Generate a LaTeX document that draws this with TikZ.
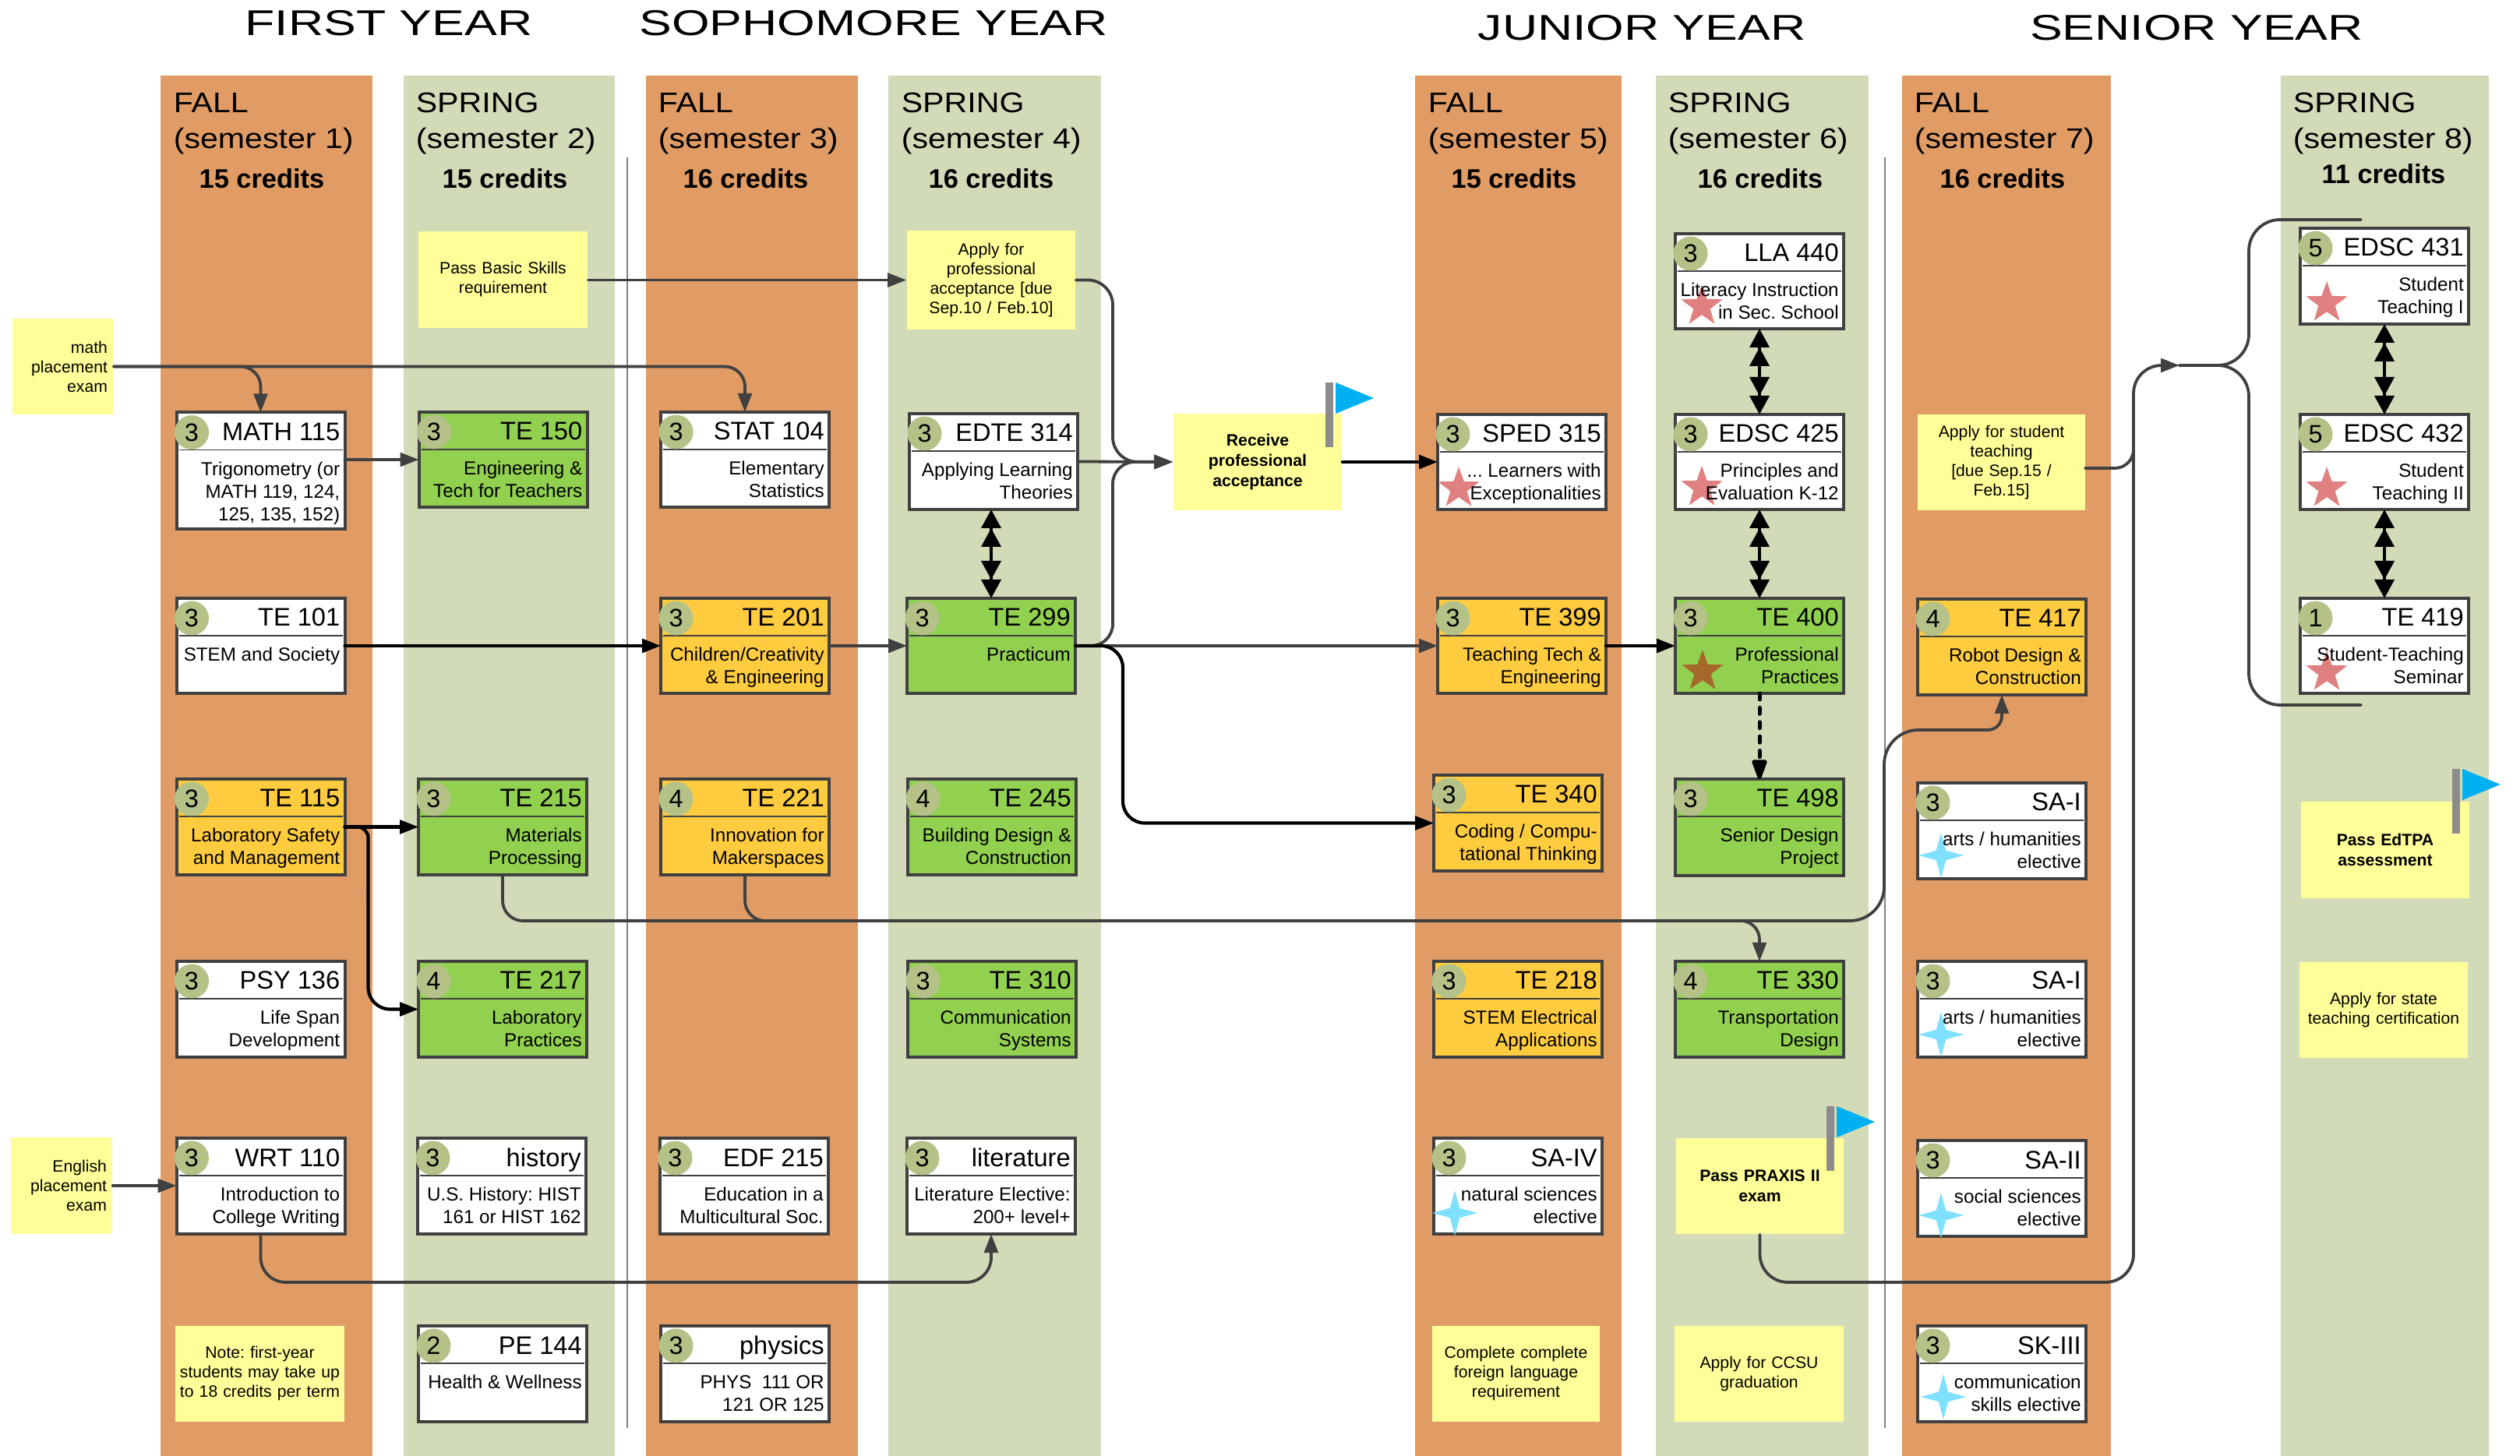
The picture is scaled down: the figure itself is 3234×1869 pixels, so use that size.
\documentclass[tikz,border=0pt]{standalone}
\usepackage{fontspec}
\setmainfont{Liberation Sans}
\newfontfamily\yearfont[FakeStretch=1.36]{Liberation Sans}
\newfontfamily\semfont[FakeStretch=1.13]{Liberation Sans}
\usetikzlibrary{arrows.meta,shapes.geometric,calc}
\definecolor{fallc}{HTML}{E09C64}
\definecolor{springc}{HTML}{D2DBB8}
\definecolor{notec}{HTML}{FFFF99}
\definecolor{greenc}{HTML}{92D050}
\definecolor{yelc}{HTML}{FFCC40}
\definecolor{badgec}{HTML}{B4C288}
\definecolor{linec}{HTML}{404040}
\definecolor{starc}{HTML}{E08080}
\definecolor{brownc}{HTML}{A5672A}
\definecolor{bluestarc}{HTML}{7FE0FF}
\definecolor{flagc}{HTML}{00B0F0}
\definecolor{polec}{HTML}{8C8C8C}
\tikzset{
  plain/.style={fill=white},
  gbox/.style={fill=greenc},
  ybox/.style={fill=yelc},
  boxbase/.style={draw=linec,line width=1pt,inner sep=0pt,outer sep=0pt,rectangle},
  titletxt/.style={font=\fontsize{8.15}{9}\selectfont,inner sep=0pt,anchor=base east},
  desctxt/.style={font=\fontsize{6.05}{7.25}\selectfont,inner sep=0pt,anchor=north east,align=right},
  badge/.style={circle,fill=badgec,minimum size=11pt,inner sep=0pt,font=\fontsize{8.1}{9}\selectfont},
  notetxt/.style={fill=notec,inner sep=0.5pt,font=\fontsize{5.3}{6.25}\selectfont,rectangle},
  boldnote/.style={notetxt,font=\fontsize{5.3}{6.4}\selectfont\bfseries},
  conn/.style={draw=linec,line width=0.95pt,line cap=round,-{Triangle[length=6pt,width=4.4pt]}},
  connb/.style={draw=black,line width=1.05pt,line cap=round,-{Triangle[length=6pt,width=4.4pt]}},
  connplain/.style={draw=linec,line width=0.95pt,line cap=round},
  connbplain/.style={draw=black,line width=1.05pt,line cap=round},
  dbl/.style={draw=black,line width=1.1pt,{Triangle[length=6pt,width=6.2pt]Triangle[length=6pt,width=6.2pt]}-{Triangle[length=6pt,width=6.2pt]Triangle[length=6pt,width=6.2pt]}},
  dashb/.style={draw=black,line width=1.25pt,line cap=round,dash pattern=on 2pt off 2.6pt,-{Triangle[length=7.5pt,width=5pt,round=false]}},
  sep/.style={draw=gray,line width=0.35pt},
  yearlab/.style={font=\yearfont\fontsize{11.5}{13}\selectfont,inner sep=0pt,anchor=base},
  semlab/.style={font=\semfont\fontsize{9.1}{11}\selectfont,inner sep=0pt,anchor=base west},
  credlab/.style={font=\fontsize{8.6}{10}\selectfont\bfseries,inner sep=0pt,anchor=base},
  redstar/.style={star,star points=5,star point ratio=2.5,minimum size=14pt,inner sep=0pt,fill=#1},
  bluestar/.style={star,star points=4,star point ratio=3.3,minimum size=14.5pt,inner sep=0pt,fill=bluestarc},
}
\newcommand{\cbox}[6]{%
  \node[boxbase,#2,minimum width={(#5-#3-4)*0.25pt},minimum height={(#6-#4-4)*0.25pt}] (#1) at ({(#3+#5)/2},{(#4+#6)/2}) {};
  \draw[linec,line width=0.35pt] ([shift={(3,48)}]#1.north west) -- ([shift={(-3,48)}]#1.north east);
}
\newcommand{\ctext}[4]{%
  \node[badge] (#1c) at ([shift={(19.5,25.5)}]#1.north west) {#2};
  \node[titletxt] (#1t) at ([shift={(-5.5,36)}]#1.north east) {#3};
  \node[desctxt] (#1d) at ([shift={(-5.5,56)}]#1.north east) {\rule{0pt}{6pt}#4};
}
\newcommand{\rstar}[4][starc]{\node[redstar=#1] (#2s) at ([shift={(#3,#4)}]#2.north west) {};}
\newcommand{\bstar}[3]{\node[bluestar] (#1s) at ([shift={(#2,#3)}]#1.north west) {};}
\newcommand{\noteb}[7][notetxt]{%
  \node[#1,minimum width={(#5-#3)*0.25pt},minimum height={(#6-#4)*0.25pt},text width={(#5-#3-4)*0.25pt},align=center] (#2) at ({(#3+#5)/2},{(#4+#6)/2}) {#7};
}
\newcommand{\flagat}[2]{%
  \fill[polec] (#1,#2) rectangle ++(10,83);
  \fill[flagc] ($(#1,#2)+(13,0)$) -- ++(49,20) -- ++(-49,20) -- cycle;
}
\begin{document}
\frenchspacing
\begin{tikzpicture}[x=0.25pt,y=-0.25pt]
\useasboundingbox (0,0) rectangle (3234,1869);
\fill[white] (0,0) rectangle (3234,1869);
% columns
\foreach \a/\b/\c in {206/478/fallc,518/789/springc,829/1101/fallc,1140/1413/springc,1816/2081/fallc,2125/2398/springc,2441/2709/fallc,2927/3194/springc}
  \fill[\c] (\a,97) rectangle (\b,1869);
\draw[sep] (805,202) -- (805,1833);
\draw[sep] (2419,202) -- (2419,1833);
% years
\node[yearlab] (y1) at (499,46) {FIRST YEAR};
\node[yearlab] (y2) at (1121,46) {SOPHOMORE YEAR};
\node[yearlab] (y3) at (2107,52) {JUNIOR YEAR};
\node[yearlab] (y4) at (2819,52) {SENIOR YEAR};
% heads
\node[semlab] (h1x) at (222,145) {FALL};
\node[semlab] (h2x) at (533,145) {SPRING};
\node[semlab] (h3x) at (844,145) {FALL};
\node[semlab] (h4x) at (1156,145) {SPRING};
\node[semlab] (h5x) at (1832,145) {FALL};
\node[semlab] (h6x) at (2140,145) {SPRING};
\node[semlab] (h7x) at (2456,145) {FALL};
\node[semlab] (h8x) at (2942,145) {SPRING};
\node[semlab] (h1y) at (222,191) {(semester 1)};
\node[semlab] (h2y) at (533,191) {(semester 2)};
\node[semlab] (h3y) at (844,191) {(semester 3)};
\node[semlab] (h4y) at (1156,191) {(semester 4)};
\node[semlab] (h5y) at (1832,191) {(semester 5)};
\node[semlab] (h6y) at (2140,191) {(semester 6)};
\node[semlab] (h7y) at (2456,191) {(semester 7)};
\node[semlab] (h8y) at (2942,191) {(semester 8)};
\node[credlab] (h1z) at (336,242) {15 credits};
\node[credlab] (h2z) at (648,242) {15 credits};
\node[credlab] (h3z) at (957,242) {16 credits};
\node[credlab] (h4z) at (1272,242) {16 credits};
\node[credlab] (h5z) at (1943,242) {15 credits};
\node[credlab] (h6z) at (2259,242) {16 credits};
\node[credlab] (h7z) at (2570,242) {16 credits};
\node[credlab] (h8z) at (3059,236) {11 credits};
% notes
\node[notetxt,inner sep=1.75pt,minimum width=32.25pt,minimum height=30.75pt,text width=28.75pt,align=right] (mathn) at (80.5,470.5) {math\\placement\\exam};
\node[notetxt,inner sep=1.75pt,minimum width=32.5pt,minimum height=31pt,text width=29pt,align=right] (engn) at (79,1522) {English\\placement\\exam};
\noteb{basic}{537}{297}{754}{421}{Pass Basic Skills\\requirement}
\noteb{applyprof}{1164}{296}{1380}{423}{Apply for\\professional\\acceptance [due\\Sep.10 / Feb.10]}
\noteb[boldnote]{receive}{1506}{531}{1722}{655}{Receive\\professional\\acceptance}
\noteb{firstnote}{225}{1702}{442}{1825}{Note: first-year\\students may take up\\to 18 credits per term}
\noteb{lang}{1838}{1702}{2053}{1825}{Complete complete\\foreign language\\requirement}
\noteb{ccsu}{2149}{1702}{2366}{1825}{Apply for CCSU\\graduation}
\noteb[boldnote]{praxis}{2151}{1461}{2366}{1584}{Pass PRAXIS II\\exam}
\noteb{applyst}{2461}{532}{2676}{655}{Apply for student\\teaching\\{[}due Sep.15 /\\Feb.15{]}}
\noteb[boldnote]{edtpa}{2953}{1029}{3169}{1153}{Pass EdTPA\\assessment}
\noteb{statecert}{2951}{1235}{3167}{1358}{Apply for state\\teaching certification}
\flagat{1701}{491}
\flagat{2344}{1420}
\flagat{3147}{987}
% column 1
\cbox{math115}{plain}{224.5}{527.5}{444.5}{681.5}\ctext{math115}{3}{MATH 115}{Trigonometry (or\\MATH 119, 124,\\125, 135, 152)}
\cbox{te101}{plain}{224.5}{766}{444.5}{892}\ctext{te101}{3}{TE 101}{STEM and Society}
\cbox{te115}{ybox}{224.5}{998}{444.5}{1125}\ctext{te115}{3}{TE 115}{Laboratory Safety\\and Management}
\cbox{psy136}{plain}{224.5}{1232}{444.5}{1359}\ctext{psy136}{3}{PSY 136}{Life Span\\Development}
\cbox{wrt110}{plain}{224.5}{1459}{444.5}{1586}\ctext{wrt110}{3}{WRT 110}{Introduction to\\College Writing}
% column 2
\cbox{te150}{gbox}{535.5}{527}{755.5}{653}\ctext{te150}{3}{TE 150}{Engineering \&\\Tech for Teachers}
\cbox{te215}{gbox}{535}{998}{755}{1125}\ctext{te215}{3}{TE 215}{Materials\\Processing}
\cbox{te217}{gbox}{535}{1232}{755}{1359}\ctext{te217}{4}{TE 217}{Laboratory\\Practices}
\cbox{hist}{plain}{534}{1459}{754}{1586}\ctext{hist}{3}{history}{U.S. History: HIST\\161 or HIST 162}
\cbox{pe144}{plain}{535}{1700}{755}{1827}\ctext{pe144}{2}{PE 144}{Health \& Wellness}
% column 3
\cbox{stat104}{plain}{846}{527}{1066}{653}\ctext{stat104}{3}{STAT 104}{Elementary\\Statistics}
\cbox{te201}{ybox}{846}{766}{1066}{892}\ctext{te201}{3}{TE 201}{Children/Creativity\\\& Engineering}
\cbox{te221}{ybox}{846}{998}{1066}{1125}\ctext{te221}{4}{TE 221}{Innovation for\\Makerspaces}
\cbox{edf215}{plain}{845}{1459}{1065}{1586}\ctext{edf215}{3}{EDF 215}{Education in a\\Multicultural Soc.}
\cbox{phys}{plain}{846}{1700}{1066}{1827}\ctext{phys}{3}{physics}{PHYS\ \ 111 OR\\121 OR 125}
% column 4
\cbox{edte314}{plain}{1165}{529}{1385}{656}\ctext{edte314}{3}{EDTE 314}{Applying Learning\\Theories}
\cbox{te299}{gbox}{1162}{766}{1382}{892}\ctext{te299}{3}{TE 299}{Practicum}
\cbox{te245}{gbox}{1163}{998}{1383}{1125}\ctext{te245}{4}{TE 245}{Building Design \&\\Construction}
\cbox{te310}{gbox}{1163}{1232}{1383}{1359}\ctext{te310}{3}{TE 310}{Communication\\Systems}
\cbox{lit}{plain}{1162}{1459}{1382}{1586}\ctext{lit}{3}{literature}{Literature Elective:\\200+ level+}
% column 5
\cbox{sped315}{plain}{1843}{530}{2063}{656}\rstar{sped315}{27}{95}\ctext{sped315}{3}{SPED 315}{... Learners with\\Exceptionalities}
\cbox{te399}{ybox}{1843}{766}{2063}{892}\ctext{te399}{3}{TE 399}{Teaching Tech \&\\Engineering}
\cbox{te340}{ybox}{1838}{993}{2058}{1120}\ctext{te340}{3}{TE 340}{Coding / Compu-\\tational Thinking}
\cbox{te218}{ybox}{1838}{1232}{2058}{1359}\ctext{te218}{3}{TE 218}{STEM Electrical\\Applications}
\cbox{sa4}{plain}{1838}{1459}{2058}{1586}\bstar{sa4}{27}{96}\ctext{sa4}{3}{SA-IV}{natural sciences\\elective}
% column 6
\cbox{lla440}{plain}{2148}{298}{2368}{424}\rstar{lla440}{34}{93}\ctext{lla440}{3}{LLA 440}{Literacy Instruction\\in Sec. School}
\cbox{edsc425}{plain}{2148}{530}{2368}{656}\rstar{edsc425}{34}{94}\ctext{edsc425}{3}{EDSC 425}{Principles and\\Evaluation K-12}
\cbox{te400}{gbox}{2148}{766}{2368}{892}\rstar[brownc]{te400}{35}{94}\ctext{te400}{3}{TE 400}{Professional\\Practices}
\cbox{te498}{gbox}{2148}{998}{2368}{1126}\ctext{te498}{3}{TE 498}{Senior Design\\Project}
\cbox{te330}{gbox}{2148}{1232}{2368}{1359}\ctext{te330}{4}{TE 330}{Transportation\\Design}
% column 7
\cbox{te417}{ybox}{2459}{767}{2679}{894}\ctext{te417}{4}{TE 417}{Robot Design \&\\Construction}
\cbox{sa1a}{plain}{2459}{1003}{2679}{1130}\bstar{sa1a}{30}{93}\ctext{sa1a}{3}{SA-I}{arts / humanities\\elective}
\cbox{sa1b}{plain}{2459}{1232}{2679}{1359}\bstar{sa1b}{30}{94}\ctext{sa1b}{3}{SA-I}{arts / humanities\\elective}
\cbox{sa2}{plain}{2459}{1462}{2679}{1589}\bstar{sa2}{30}{96}\ctext{sa2}{3}{SA-II}{social sciences\\elective}
\cbox{sk3}{plain}{2459}{1700}{2679}{1827}\bstar{sk3}{33}{91}\ctext{sk3}{3}{SK-III}{communication\\skills elective}
% column 8
\cbox{edsc431}{plain}{2950}{291}{3170}{418}\rstar{edsc431}{34}{96}\ctext{edsc431}{5}{EDSC 431}{Student\\Teaching I}
\cbox{edsc432}{plain}{2950}{530}{3170}{656}\rstar{edsc432}{34}{95}\ctext{edsc432}{5}{EDSC 432}{Student\\Teaching II}
\cbox{te419}{plain}{2950}{766}{3170}{892}\rstar{te419}{34}{95}\ctext{te419}{1}{TE 419}{Student-Teaching\\Seminar}
% way points
\coordinate (busA) at (1428,593);
\coordinate (busC) at (1441,1056.5);
\coordinate (midD) at (472.5,1150);
\coordinate (busB) at (2418,1182);
\coordinate (riseB) at (2418,937);
\coordinate (riseEnd) at (2490,937);
\coordinate (busJ) at (1100,1182);
\coordinate (busE) at (800,1646);
\coordinate (busF) at (2500,1646);
\coordinate (busG) at (2738,469);
\coordinate (busH) at (2738,530);
\coordinate (jn) at (2797,469);
\coordinate (brV) at (2886,469);
\coordinate (brTop) at (3030,282);
\coordinate (brBot) at (3030,905);
\coordinate (apsOut) at (2676,601);
% connectors
\draw[conn,rounded corners=6.5pt] (mathn.east) -| (math115.north);
\draw[conn,rounded corners=6.5pt] (mathn.east) -| (stat104.north);
\draw[conn] (math115.east |- te150.west) -- (te150.west);
\draw[conn] (basic.east |- applyprof.west) -- (applyprof.west);
\draw[conn,rounded corners=8pt] (applyprof.east) -| (busA) -- (receive.west);
\draw[conn] (edte314.east) -- (receive.west);
\draw[conn,rounded corners=7pt] (te299.east) -| (busA) -- (receive.west);
\draw[connb] (receive.east) -- (receive.east -| sped315.west);
\draw[conn] (te299.east) -- (te399.west);
\draw[connb,rounded corners=7pt] (te299.east) -| (busC) -- (te340.west);
\draw[connb] (te101.east) -- (te201.west);
\draw[conn] (te201.east) -- (te299.west);
\draw[connb] (te399.east) -- (te400.west);
\draw[connb] (te115.east) -- (te215.west);
\draw[connbplain,rounded corners=3.5pt] (te115.east) -| (midD);
\draw[connb,rounded corners=7pt] (midD) |- (te217.west);
\draw[connplain,rounded corners=6.5pt] (te215.south) |- (busJ);
\draw[connplain,rounded corners=6.5pt] (te221.south) |- (busJ);
\draw[connplain,rounded corners=11pt] (busJ) -- (busB) -- (riseB) -- (riseEnd);
\draw[conn,rounded corners=4.5pt] (riseEnd) -| (te417.south);
\draw[conn,rounded corners=6pt] (busJ) -| (te330.north);
\draw[conn,rounded corners=8pt] (wrt110.south) |- (busE) -| (lit.south);
\draw[conn] (engn.east) -- (engn.east -| wrt110.west);
\draw[conn,rounded corners=9pt] (praxis.south) |- (busF) -| (busG) -- (jn);
\draw[connplain,rounded corners=6pt] (apsOut) -| (busH);
\draw[connplain,rounded corners=10pt] (jn) -- (brV) |- (brTop);
\draw[connplain,rounded corners=10pt] (jn) -- (brV) |- (brBot);
\draw[dbl] (edte314.south -| te299.north) -- (te299.north);
\draw[dbl] (lla440.south) -- (edsc425.north);
\draw[dbl] (edsc425.south) -- (te400.north);
\draw[dbl] (edsc431.south) -- (edsc432.north);
\draw[dbl] (edsc432.south) -- (te419.north);
\draw[dashb] (te400.south) -- (te498.north);
\end{tikzpicture}
\end{document}
